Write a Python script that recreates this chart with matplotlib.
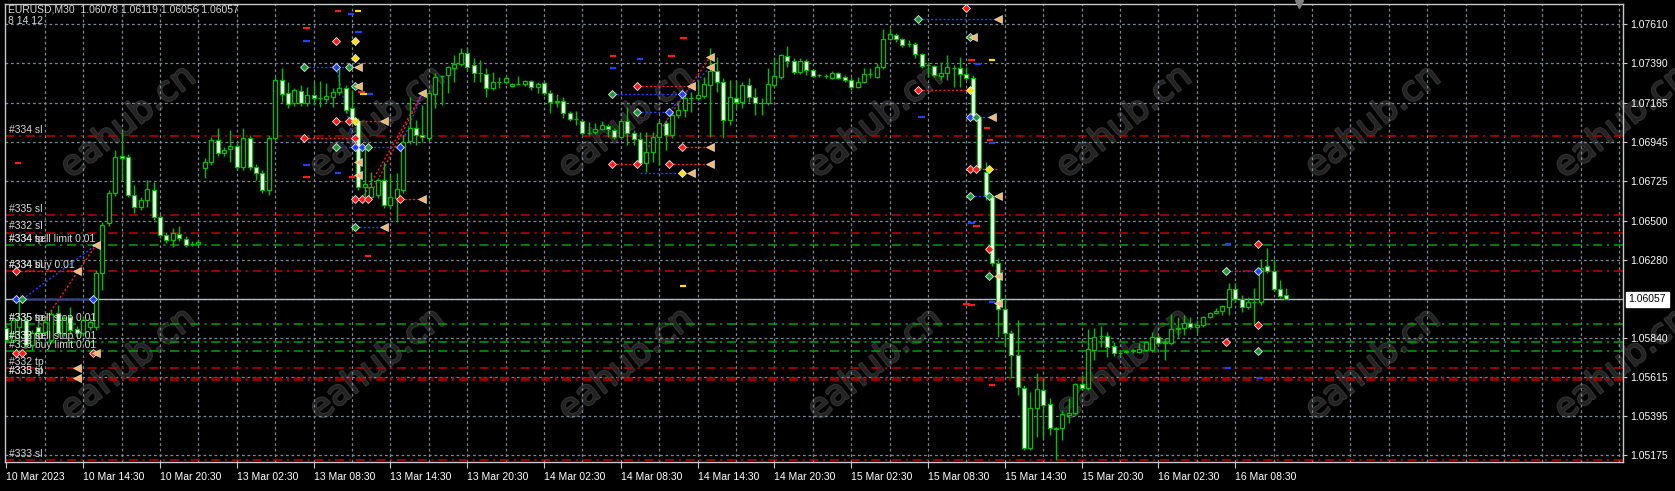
import matplotlib
matplotlib.use("Agg")
import matplotlib.pyplot as plt
import matplotlib.patheffects as pe

# ---- EURUSD M30 bars ----
opens = [1.05894, 1.05826, 1.05900, 1.05939, 1.05798, 1.05900, 1.05871, 1.05826, 1.05979, 1.05866,
         1.05956, 1.05888, 1.05866, 1.05900, 1.05900, 1.06205, 1.06487, 1.06657, 1.06866, 1.06860,
         1.06645, 1.06577, 1.06617, 1.06674, 1.06521, 1.06419, 1.06391, 1.06425, 1.06397, 1.06368,
         1.06368, 1.06798, 1.06832, 1.06956, 1.06883, 1.06905, 1.06922, 1.06803, 1.06967, 1.06803,
         1.06770, 1.06674, 1.06967, 1.07295, 1.07222, 1.07165, 1.07233, 1.07165, 1.07210, 1.07193,
         1.07188, 1.07199, 1.07227, 1.07250, 1.07137, 1.07063, 1.06690, 1.06634, 1.06645, 1.06730,
         1.06589, 1.06628, 1.06674, 1.06950, 1.07024, 1.06984, 1.06967, 1.07216, 1.07318, 1.07323,
         1.07363, 1.07385, 1.07448, 1.07380, 1.07335, 1.07329, 1.07250, 1.07284, 1.07284, 1.07261,
         1.07272, 1.07272, 1.07289, 1.07255, 1.07278, 1.07222, 1.07176, 1.07176, 1.07109, 1.07075,
         1.07063, 1.06996, 1.07001, 1.07018, 1.07035, 1.07013, 1.06973, 1.07063, 1.06996, 1.06962,
         1.06826, 1.06888, 1.06973, 1.07052, 1.06984, 1.07097, 1.07126, 1.07193, 1.07193, 1.07205,
         1.07267, 1.07346, 1.07284, 1.07069, 1.07193, 1.07171, 1.07267, 1.07199, 1.07165, 1.07165,
         1.07267, 1.07312, 1.07431, 1.07402, 1.07340, 1.07402, 1.07352, 1.07321, 1.07318, 1.07306,
         1.07335, 1.07312, 1.07295, 1.07255, 1.07284, 1.07326, 1.07312, 1.07368, 1.07527, 1.07549,
         1.07527, 1.07498, 1.07498, 1.07442, 1.07380, 1.07374, 1.07318, 1.07335, 1.07360, 1.07363,
         1.07329, 1.07306, 1.07086, 1.06775, 1.06634, 1.06261, 1.06001, 1.05866, 1.05741, 1.05555,
         1.05216, 1.05442, 1.05544, 1.05464, 1.05329, 1.05329, 1.05402, 1.05414, 1.05577, 1.05555,
         1.05770, 1.05846, 1.05849, 1.05792, 1.05753, 1.05761, 1.05764, 1.05758, 1.05770, 1.05770,
         1.05843, 1.05809, 1.05809, 1.05891, 1.05894, 1.05922, 1.05900, 1.05911, 1.05956, 1.05979,
         1.05990, 1.06012, 1.06114, 1.06058, 1.06012, 1.06038, 1.06041, 1.06244, 1.06216, 1.06114,
         1.06078]
highs = [1.05911, 1.05950, 1.06052, 1.05962, 1.05882, 1.05928, 1.05962, 1.05995, 1.06024, 1.05962,
         1.06012, 1.05905, 1.05962, 1.05950, 1.06222, 1.06493, 1.06674, 1.06900, 1.07001, 1.06877,
         1.06702, 1.06634, 1.06730, 1.06719, 1.06538, 1.06436, 1.06459, 1.06470, 1.06414, 1.06385,
         1.06391, 1.06854, 1.06973, 1.07024, 1.06916, 1.07013, 1.06939, 1.07024, 1.06984, 1.06820,
         1.06787, 1.06984, 1.07312, 1.07363, 1.07284, 1.07250, 1.07267, 1.07255, 1.07284, 1.07289,
         1.07278, 1.07250, 1.07363, 1.07267, 1.07239, 1.07080, 1.06911, 1.06775, 1.06741, 1.06832,
         1.06758, 1.06770, 1.06984, 1.07199, 1.07069, 1.07154, 1.07239, 1.07335, 1.07323, 1.07374,
         1.07436, 1.07476, 1.07476, 1.07419, 1.07408, 1.07363, 1.07340, 1.07312, 1.07318, 1.07278,
         1.07318, 1.07295, 1.07295, 1.07284, 1.07289, 1.07239, 1.07216, 1.07199, 1.07120, 1.07120,
         1.07069, 1.07058, 1.07052, 1.07063, 1.07046, 1.07024, 1.07069, 1.07142, 1.07013, 1.07001,
         1.07001, 1.07001, 1.07069, 1.07069, 1.07109, 1.07171, 1.07210, 1.07227, 1.07295, 1.07312,
         1.07476, 1.07425, 1.07306, 1.07295, 1.07295, 1.07284, 1.07306, 1.07250, 1.07193, 1.07363,
         1.07425, 1.07442, 1.07487, 1.07419, 1.07419, 1.07414, 1.07357, 1.07329, 1.07329, 1.07346,
         1.07340, 1.07323, 1.07312, 1.07312, 1.07363, 1.07363, 1.07391, 1.07583, 1.07589, 1.07561,
         1.07532, 1.07521, 1.07510, 1.07448, 1.07397, 1.07380, 1.07397, 1.07436, 1.07380, 1.07425,
         1.07368, 1.07323, 1.07097, 1.06832, 1.06645, 1.06289, 1.06069, 1.05882, 1.05939, 1.05572,
         1.05532, 1.05640, 1.05611, 1.05498, 1.05334, 1.05431, 1.05498, 1.05583, 1.05628, 1.05888,
         1.05894, 1.05905, 1.05871, 1.05815, 1.05764, 1.05770, 1.05775, 1.05809, 1.05820, 1.05871,
         1.05854, 1.05837, 1.05973, 1.05956, 1.05967, 1.05956, 1.05939, 1.05962, 1.05984, 1.06007,
         1.06024, 1.06148, 1.06148, 1.06080, 1.06069, 1.06120, 1.06284, 1.06346, 1.06284, 1.06165,
         1.06119]
lows = [1.05809, 1.05815, 1.05786, 1.05781, 1.05770, 1.05849, 1.05854, 1.05809, 1.05849, 1.05849,
        1.05860, 1.05843, 1.05849, 1.05882, 1.05882, 1.06109, 1.06470, 1.06640, 1.06730, 1.06634,
        1.06544, 1.06561, 1.06577, 1.06504, 1.06402, 1.06374, 1.06351, 1.06385, 1.06351, 1.06357,
        1.06363, 1.06741, 1.06815, 1.06866, 1.06866, 1.06832, 1.06787, 1.06787, 1.06787, 1.06730,
        1.06657, 1.06645, 1.06956, 1.07171, 1.07137, 1.07148, 1.07148, 1.07148, 1.07154, 1.07142,
        1.07171, 1.07142, 1.07210, 1.07109, 1.07046, 1.06674, 1.06634, 1.06617, 1.06628, 1.06572,
        1.06572, 1.06493, 1.06657, 1.06933, 1.06928, 1.06945, 1.06950, 1.07137, 1.07154, 1.07222,
        1.07284, 1.07374, 1.07352, 1.07284, 1.07284, 1.07199, 1.07239, 1.07250, 1.07272, 1.07255,
        1.07267, 1.07261, 1.07239, 1.07222, 1.07210, 1.07109, 1.07142, 1.07080, 1.07063, 1.07041,
        1.06984, 1.06984, 1.06990, 1.07013, 1.06973, 1.06962, 1.06962, 1.06928, 1.06928, 1.06815,
        1.06775, 1.06832, 1.06815, 1.06900, 1.06967, 1.07080, 1.07086, 1.07114, 1.07182, 1.07193,
        1.06973, 1.07227, 1.06967, 1.07041, 1.07137, 1.07137, 1.07171, 1.07097, 1.07097, 1.07154,
        1.07255, 1.07301, 1.07368, 1.07329, 1.07329, 1.07323, 1.07312, 1.07312, 1.07306, 1.07301,
        1.07301, 1.07284, 1.07239, 1.07250, 1.07278, 1.07306, 1.07306, 1.07357, 1.07521, 1.07510,
        1.07481, 1.07481, 1.07419, 1.07363, 1.07312, 1.07312, 1.07295, 1.07295, 1.07255, 1.07255,
        1.07295, 1.07069, 1.06787, 1.06617, 1.06244, 1.05843, 1.05786, 1.05611, 1.05515, 1.05205,
        1.05205, 1.05278, 1.05272, 1.05289, 1.05148, 1.05261, 1.05357, 1.05402, 1.05544, 1.05544,
        1.05713, 1.05786, 1.05730, 1.05736, 1.05741, 1.05753, 1.05753, 1.05753, 1.05764, 1.05758,
        1.05798, 1.05713, 1.05798, 1.05843, 1.05854, 1.05888, 1.05866, 1.05900, 1.05950, 1.05973,
        1.05967, 1.05967, 1.06041, 1.05984, 1.06001, 1.05911, 1.06024, 1.06205, 1.06103, 1.06063,
        1.06056]
closes = [1.05826, 1.05939, 1.05950, 1.05798, 1.05866, 1.05871, 1.05928, 1.05973, 1.05866, 1.05950,
          1.05882, 1.05866, 1.05939, 1.05928, 1.06205, 1.06476, 1.06657, 1.06860, 1.06854, 1.06645,
          1.06577, 1.06617, 1.06679, 1.06521, 1.06419, 1.06391, 1.06431, 1.06402, 1.06363, 1.06366,
          1.06380, 1.06832, 1.06956, 1.06883, 1.06900, 1.06922, 1.06803, 1.06967, 1.06803, 1.06770,
          1.06674, 1.06967, 1.07295, 1.07216, 1.07159, 1.07239, 1.07165, 1.07210, 1.07193, 1.07191,
          1.07205, 1.07227, 1.07250, 1.07126, 1.07063, 1.06690, 1.06707, 1.06690, 1.06730, 1.06589,
          1.06634, 1.06679, 1.06945, 1.07024, 1.06984, 1.06973, 1.07222, 1.07312, 1.07315, 1.07368,
          1.07385, 1.07448, 1.07368, 1.07335, 1.07332, 1.07250, 1.07284, 1.07281, 1.07306, 1.07272,
          1.07270, 1.07289, 1.07255, 1.07272, 1.07222, 1.07171, 1.07173, 1.07109, 1.07075, 1.07072,
          1.06996, 1.06993, 1.07018, 1.07041, 1.07018, 1.06973, 1.07063, 1.06996, 1.06962, 1.06826,
          1.06888, 1.06973, 1.07052, 1.06984, 1.07097, 1.07126, 1.07193, 1.07191, 1.07210, 1.07272,
          1.07346, 1.07284, 1.07069, 1.07199, 1.07171, 1.07267, 1.07199, 1.07165, 1.07162, 1.07272,
          1.07318, 1.07436, 1.07402, 1.07340, 1.07402, 1.07352, 1.07318, 1.07323, 1.07315, 1.07335,
          1.07306, 1.07295, 1.07255, 1.07284, 1.07329, 1.07329, 1.07368, 1.07527, 1.07555, 1.07527,
          1.07493, 1.07496, 1.07442, 1.07374, 1.07377, 1.07323, 1.07335, 1.07368, 1.07363, 1.07329,
          1.07306, 1.07086, 1.06798, 1.06645, 1.06261, 1.06001, 1.05866, 1.05741, 1.05560, 1.05216,
          1.05442, 1.05549, 1.05459, 1.05329, 1.05326, 1.05408, 1.05414, 1.05577, 1.05555, 1.05775,
          1.05843, 1.05849, 1.05786, 1.05753, 1.05750, 1.05764, 1.05767, 1.05775, 1.05815, 1.05843,
          1.05809, 1.05812, 1.05888, 1.05894, 1.05922, 1.05900, 1.05911, 1.05956, 1.05979, 1.05990,
          1.06018, 1.06114, 1.06058, 1.06012, 1.06041, 1.06041, 1.06233, 1.06216, 1.06114, 1.06075,
          1.06057]

price_ticks = [1.07610, 1.07390, 1.07165, 1.06945, 1.06725, 1.06500, 1.06280, 1.06060,
               1.05840, 1.05615, 1.05395, 1.05175]
bid = 1.06057

time_labels = ["10 Mar 2023", "10 Mar 14:30", "10 Mar 20:30", "13 Mar 02:30", "13 Mar 08:30",
               "13 Mar 14:30", "13 Mar 20:30", "14 Mar 02:30", "14 Mar 08:30", "14 Mar 14:30",
               "14 Mar 20:30", "15 Mar 02:30", "15 Mar 08:30", "15 Mar 14:30", "15 Mar 20:30",
               "16 Mar 02:30", "16 Mar 08:30"]

# order / position levels
level_prices = [1.06979, 1.06532, 1.06433, 1.06363, 1.06214, 1.05914, 1.05813, 1.05764,
                1.05666, 1.05613, 1.05599, 1.05148]
level_kinds = ["red", "red", "red", "green", "red", "green", "green", "green",
               "red", "red", "red", "red"]
level_texts = [["#334 sl"], ["#335 sl"], ["#332 sl"], ["#334 sell limit 0.01", "#334 tp"],
               ["#334 buy 0.01", "#334 sl"], ["#335 sell stop 0.01", "#335 tp"],
               ["#332 sell stop 0.01", "#333 tp"], ["#333 buy limit 0.01"], ["#332 tp"],
               ["#333 sl", "#335 tp"], [], ["#333 sl"]]

# trade arrows (bar index, price, colour)
mk_bar = [1.5, 11, 1.5, 2.5, 13.5, 14, 1.5, 2.5, 13.5, 14, 11, 11,
          51.5, 54.5, 54.5, 46.5, 51.5, 53.5, 55, 54.5, 55, 51.5, 53.5, 54.5, 59, 46.5, 54.5,
          51.5, 54.5, 55.5, 56.5, 61.5, 54.5, 55.5, 56.5, 61.5, 65, 54.5, 59, 65, 55, 55,
          94.6, 105.5, 98.5, 107, 98.5, 103.5, 105.5, 110, 94.6, 98.5, 103.5, 110, 105.5, 107,
          110, 110,
          142.5, 155, 150, 150.5, 151, 142.5, 150.5, 150.5, 151.5, 154, 150.5, 151.5, 153.5,
          150.5, 153.5, 155, 153.5, 153.5, 155, 155,
          195.5, 190.5, 195.5, 195.5, 190.5, 195.5]
mk_price = [1.06214, 1.06214, 1.06057, 1.06057, 1.06057, 1.06363, 1.05754, 1.05754, 1.05754,
            1.05754, 1.05666, 1.05613,
            1.07517, 1.07517, 1.07418, 1.07367, 1.07367, 1.07367, 1.07367, 1.07263, 1.07263,
            1.07063, 1.07063, 1.07063, 1.07063, 1.06966, 1.06966, 1.06915, 1.06915, 1.06915,
            1.06915, 1.06915, 1.06621, 1.06621, 1.06621, 1.06621, 1.06621, 1.06463, 1.06463,
            1.07220, 1.06832, 1.06758,
            1.07214, 1.07214, 1.07263, 1.07263, 1.07116, 1.07116, 1.06916, 1.06916, 1.06819,
            1.06819, 1.06819, 1.06819, 1.06768, 1.06768, 1.07427, 1.07370,
            1.07640, 1.07640, 1.07699, 1.07540, 1.07540, 1.07239, 1.07239, 1.07088, 1.07088,
            1.07088, 1.06790, 1.06790, 1.06790, 1.06641, 1.06641, 1.06641, 1.06339, 1.06189,
            1.06189, 1.06035,
            1.06367, 1.06216, 1.06216, 1.05911, 1.05813, 1.05764]
mk_kind = ["red", "tri", "blue", "green", "blue", "tri", "red", "red", "red", "tri", "tri", "tri",
           "red", "yellow", "yellow", "green", "blue", "green", "tri", "green", "tri",
           "red", "red", "yellow", "tri", "red", "red", "green", "blue", "blue", "green", "blue",
           "red", "red", "red", "red", "tri", "green", "tri", "tri", "tri", "tri",
           "green", "blue", "red", "tri", "green", "blue", "red", "tri", "red", "red", "red",
           "tri", "yellow", "tri", "tri", "tri",
           "green", "tri", "red", "green", "tri", "red", "yellow", "blue", "green", "tri",
           "red", "red", "yellow", "green", "green", "tri", "red", "green", "tri", "tri",
           "red", "green", "blue", "red", "red", "green"]

# dotted trade lines (from bar, from price, to bar, to price, colour)
seg_b0 = [1.5, 2.5, 2.5, 1.5, 46.5, 51.5, 46.5, 51.5, 61.5, 54.5, 55.5, 56.5, 61.5, 51.5,
          94.6, 98.5, 98.5, 105.5, 94.6, 103.5, 99, 98.5, 103.5,
          142.5, 142.5, 150.5, 150.5, 150.5, 190.5]
seg_p0 = [1.06214, 1.06057, 1.05754, 1.06057, 1.07367, 1.07063, 1.06966, 1.06915, 1.06621,
          1.06463, 1.06621, 1.06621, 1.06915, 1.07367,
          1.07214, 1.07263, 1.07116, 1.06916, 1.06819, 1.06819, 1.06768, 1.06819, 1.07116,
          1.07640, 1.07239, 1.07088, 1.06790, 1.06641, 1.06216]
seg_b1 = [11, 14, 14, 13.5, 55, 59, 54.5, 61.5, 65, 59, 65, 65, 65, 54.5,
          105.5, 107, 103.5, 110, 98.5, 110, 105.5, 110, 110,
          155, 150.5, 154, 155, 155, 195.5]
seg_p1 = [1.06214, 1.06363, 1.06363, 1.06057, 1.07367, 1.07063, 1.06966, 1.06915, 1.06621,
          1.06463, 1.07220, 1.07220, 1.07220, 1.06915,
          1.07214, 1.07263, 1.07116, 1.06916, 1.06819, 1.06819, 1.06768, 1.07427, 1.07370,
          1.07640, 1.07239, 1.07088, 1.06790, 1.06641, 1.06216]
seg_kind = ["red", "blue", "red", "blue_solid", "blue", "red", "red", "blue", "red", "blue",
            "red", "red", "blue", "blue",
            "blue", "red", "blue", "red", "red", "red", "blue", "red", "blue",
            "blue", "red", "blue", "red", "blue", "blue"]

# short order marks
dash_bar = [51.8, 53.8, 54.9, 46.9, 46.9, 55.0, 1.8, 55.5, 55.8, 56.8, 46.9, 46.9, 51.8, 54.0,
            56.5, 94.8, 99.0, 103.9, 94.8, 105.8, 105.7, 150.8, 154.0, 151.8, 153.2, 143.0,
            153.7, 154.0, 150.8, 151.6, 150.8, 154.0, 190.9, 190.9, 195.9, 154.0, 150.0]
dash_price = [1.07685, 1.07666, 1.07685, 1.07587, 1.07517, 1.07566, 1.06824, 1.07229, 1.07214,
              1.07214, 1.06815, 1.06749, 1.06768, 1.06749, 1.06301, 1.07432, 1.07414, 1.07432,
              1.07365, 1.07531, 1.06131, 1.07408, 1.07408, 1.07384, 1.07022, 1.07088, 1.06956,
              1.06937, 1.06485, 1.06472, 1.06024, 1.06042, 1.06367, 1.05666, 1.05613, 1.05572,
              1.06030]
dash_kind = ["red", "blue", "yellow", "red", "blue", "blue", "red", "red", "yellow", "blue",
             "blue", "red", "blue", "red", "red", "red", "blue", "red", "blue", "red", "yellow",
             "red", "yellow", "blue", "red", "blue", "red", "blue", "blue", "red", "red", "blue",
             "blue", "blue", "blue", "red", "red"]

colors = {"red": "#ff1a1a", "green": "#1f9a3a", "blue": "#2040ff", "yellow": "#ffe000",
          "tri": "#f0b870", "blue_solid": "#2040ff"}
line_colors = {"red": "#c00000", "green": "#00a000"}
candle_green = "#00c000"
grid_color = "#7c8797"
txt = "#d8d8d8"

W, H = 1675, 491
fig = plt.figure(figsize=(W / 100, H / 100), dpi=100, facecolor="black")
ax = fig.add_axes([5 / W, 29 / H, 1618 / W, 458 / H], facecolor="black")
ax.set_xlim(-0.23, 252.6)
ax.set_ylim(1.05137, 1.07724)

# watermark
for row_y in (1.07060, 1.05690):
    for k in range(7):
        ax.text(19.0 + 38.9 * k, row_y, "eahub.cn", rotation=38, fontsize=25, color="#232323",
                ha="center", va="center", family="DejaVu Sans", zorder=0.5,
                path_effects=[pe.withStroke(linewidth=1.5, foreground="#343434")])

# grid
for p in price_ticks:
    ax.axhline(p, color=grid_color, lw=0.9, ls=(0, (2.2, 2.2)), zorder=1)
for b in range(6, 253, 6):
    ax.axvline(b, color=grid_color, lw=0.9, ls=(0, (2.2, 2.2)), zorder=1)

# level lines + their names
for p, kd, names in zip(level_prices, level_kinds, level_texts):
    ax.axhline(p, color=line_colors[kd], lw=1.1, ls=(0, (6, 3, 1.5, 3)), zorder=2)
    for name in names:
        ax.text(0.35, p + 0.00007, name, color=txt, fontsize=7.5, va="bottom", ha="left",
                family="Liberation Sans", zorder=6)

# bid line
ax.axhline(bid, color="#b4b8c0", lw=1.0, zorder=2)

# trade lines
for b0, p0, b1, p1, kd in zip(seg_b0, seg_p0, seg_b1, seg_p1, seg_kind):
    ls = "-" if kd == "blue_solid" else (0, (1.5, 1.5))
    ax.plot([b0, b1], [p0, p1], color=colors[kd], lw=1.0, ls=ls, zorder=3)

# candles
x = list(range(len(closes)))
ax.vlines(x, lows, highs, color=candle_green, lw=1.0, zorder=4)
bodies_h = [c - o for o, c in zip(opens, closes)]
body_col = ["black" if c >= o else "white" for o, c in zip(opens, closes)]
ax.bar(x, bodies_h, bottom=opens, width=0.62, color=body_col, edgecolor=candle_green,
       linewidth=0.9, zorder=5)

# order marks
for b, p, kd in zip(dash_bar, dash_price, dash_kind):
    ax.plot([b - 0.5, b + 0.5], [p, p], color=colors[kd], lw=1.6, solid_capstyle="butt",
            zorder=6)

# trade arrows
for b, p, kd in zip(mk_bar, mk_price, mk_kind):
    if kd == "tri":
        ax.plot(b, p, marker="<", ms=6, color=colors[kd], mec="#fff0d8", mew=0.4, zorder=7)
    else:
        ax.plot(b, p, marker="D", ms=4.2, color=colors[kd], mec="#e8e8e8", mew=0.6, zorder=7)

# frame / axes
for s in ax.spines.values():
    s.set_color("#c8c8c8")
    s.set_linewidth(1.0)
ax.yaxis.tick_right()
shown = [p for p in price_ticks if abs(p - bid) > 0.0001]
ax.set_yticks(shown)
ax.set_yticklabels([f"{p:.5f}" for p in shown])
ax.set_xticks(range(0, 12 * len(time_labels), 12))
ax.set_xticklabels(time_labels, ha="left")
ax.tick_params(axis="y", colors="#c8c8c8", labelcolor="white", labelsize=7.5, length=3,
               width=0.8, pad=2)
ax.tick_params(axis="x", colors="#c8c8c8", labelcolor="white", labelsize=7.5, length=4,
               width=0.8, pad=3)
for lab in ax.get_xticklabels() + ax.get_yticklabels():
    lab.set_family("Liberation Sans")

# current price box
ax.annotate(f"{bid:.5f}", xy=(1.0, bid), xycoords=("axes fraction", "data"),
            xytext=(4, 0), textcoords="offset points", va="center", ha="left",
            fontsize=7.5, family="Liberation Sans", color="black",
            bbox=dict(boxstyle="square,pad=0.25", fc="white", ec="white"))

# chart header
fig.text(8 / W, 1 - 12 / H, "EURUSD,M30  1.06078 1.06119 1.06056 1.06057", color=txt,
         fontsize=7.5, family="Liberation Sans", va="baseline")
fig.text(8 / W, 1 - 24 / H, "8 14 12", color=txt, fontsize=7.5, family="Liberation Sans",
         va="baseline")
# chart shift marker
ax.plot(202, 1.07724, marker="v", ms=6, color="#808080", clip_on=False, zorder=8)

fig.savefig("out.png", dpi=100, facecolor="black")
